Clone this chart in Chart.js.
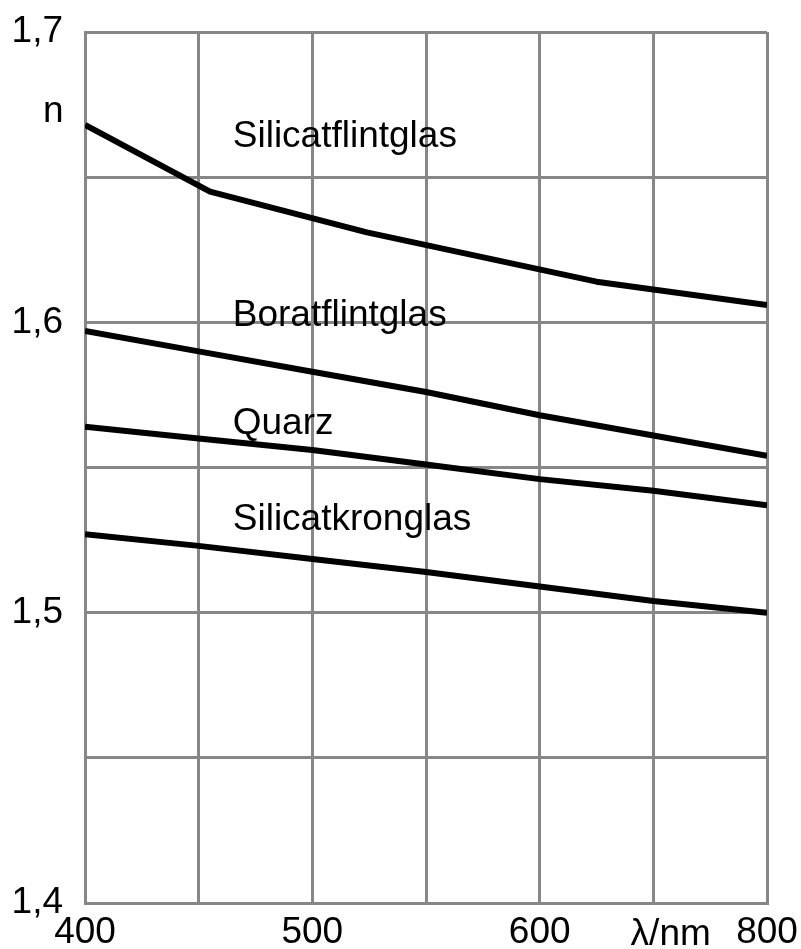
<!DOCTYPE html>
<html>
<head>
<meta charset="utf-8">
<script src="https://cdn.jsdelivr.net/npm/chart.js@4/dist/chart.umd.min.js"></script>
<style>
  html, body { margin: 0; padding: 0; background: #fff; }
  #wrap { width: 801px; height: 949px; }
</style>
</head>
<body>
<div id="wrap"><canvas id="chart" width="801" height="949"></canvas></div>
<script>
// wavelengths of the vertical grid lines (axis is not linear above 600 nm)
const gridWavelengths = [400, 450, 500, 550, 600, 700, 800];
const xTickLabels = ["400", "", "500", "", "600", "", "800"];
const yGridValues = [1.4, 1.45, 1.5, 1.55, 1.6, 1.65, 1.7];
const yTickLabels = ["1,4", "", "1,5", "", "1,6", "", "1,7"];

// refractive index n over wavelength
const silicatflintWl = [400, 455, 524, 650, 800];
const silicatflintN = [1.668, 1.645, 1.631, 1.614, 1.606];
const boratflintN = [1.597, 1.590, 1.583, 1.576, 1.568, 1.561, 1.554];
const quarzN = [1.564, 1.560, 1.556, 1.551, 1.546, 1.542, 1.537];
const silicatkronN = [1.527, 1.523, 1.5185, 1.514, 1.509, 1.504, 1.500];

const FONT = "'Liberation Sans', Arial, sans-serif";
const GRID = "#878787";

// position on the x axis (grid units) for a wavelength
function wlToPos(w) {
    for (let i = 0; i < gridWavelengths.length - 1; i++) {
        const a = gridWavelengths[i], b = gridWavelengths[i + 1];
        if (w <= b || i === gridWavelengths.length - 2) {
            return i + (w - a) / (b - a);
        }
    }
}

function toPoints(wls, ns) {
    return ns.map((n, i) => ({ x: wlToPos(wls[i]), y: n }));
}

function lineSet(label, points) {
    return {
        label: label,
        data: points,
        borderColor: "#000",
        borderWidth: 6,
        pointRadius: 0,
        tension: 0,
        borderJoinStyle: "round",
        fill: false
    };
}

// keep the plot box exactly where the layout padding puts it
function noScalePadding(s) {
    s.paddingTop = 0;
    s.paddingBottom = 0;
    s.paddingLeft = 0;
    s.paddingRight = 0;
}

// curve names and the axis captions
const textPlugin = {
    id: "curveText",
    afterDatasetsDraw(chart) {
        const ctx = chart.ctx;
        const xs = chart.scales.x;
        const ys = chart.scales.y;
        const area = chart.chartArea;
        ctx.save();
        ctx.fillStyle = "#000";
        ctx.font = "37px " + FONT;
        ctx.textAlign = "left";
        ctx.textBaseline = "alphabetic";
        const lx = xs.getPixelForValue(wlToPos(465));
        ctx.fillText("Silicatflintglas", lx, ys.getPixelForValue(1.6604));
        ctx.fillText("Boratflintglas", lx, ys.getPixelForValue(1.5988));
        ctx.fillText("Quarz", lx, ys.getPixelForValue(1.5616));
        ctx.fillText("Silicatkronglas", lx, ys.getPixelForValue(1.5285));
        ctx.fillText("n", area.left - 42, ys.getPixelForValue(1.669));
        ctx.fillText("λ/nm", xs.getPixelForValue(wlToPos(680)), area.bottom + 42);
        ctx.restore();
    }
};

new Chart(document.getElementById("chart"), {
    type: "line",
    data: {
        datasets: [
            lineSet("Silicatflintglas", toPoints(silicatflintWl, silicatflintN)),
            lineSet("Boratflintglas", toPoints(gridWavelengths, boratflintN)),
            lineSet("Quarz", toPoints(gridWavelengths, quarzN)),
            lineSet("Silicatkronglas", toPoints(gridWavelengths, silicatkronN))
        ]
    },
    options: {
        responsive: false,
        animation: false,
        layout: { padding: { left: 0, right: 34, top: 32, bottom: 0 } },
        plugins: {
            legend: { display: false },
            tooltip: { enabled: false }
        },
        scales: {
            x: {
                type: "linear",
                min: 0,
                max: gridWavelengths.length - 1,
                afterBuildTicks: s => { s.ticks = gridWavelengths.map((w, i) => ({ value: i })); },
                afterFit: s => { s.height = 46; noScalePadding(s); },
                grid: { color: GRID, lineWidth: 3, drawTicks: false },
                border: { color: GRID, width: 3 },
                ticks: {
                    autoSkip: false,
                    maxRotation: 0,
                    padding: 8,
                    color: "#000",
                    font: { family: FONT, size: 37 },
                    callback: (v, i) => xTickLabels[i]
                }
            },
            y: {
                type: "linear",
                min: 1.4,
                max: 1.7,
                afterBuildTicks: s => { s.ticks = yGridValues.map(v => ({ value: v })); },
                afterFit: s => { s.width = 85; noScalePadding(s); },
                grid: { color: GRID, lineWidth: 3, drawTicks: false },
                border: { color: GRID, width: 3 },
                ticks: {
                    autoSkip: false,
                    padding: 22,
                    color: "#000",
                    font: { family: FONT, size: 37 },
                    callback: (v, i) => yTickLabels[i]
                }
            }
        }
    },
    plugins: [textPlugin]
});
</script>
</body>
</html>
